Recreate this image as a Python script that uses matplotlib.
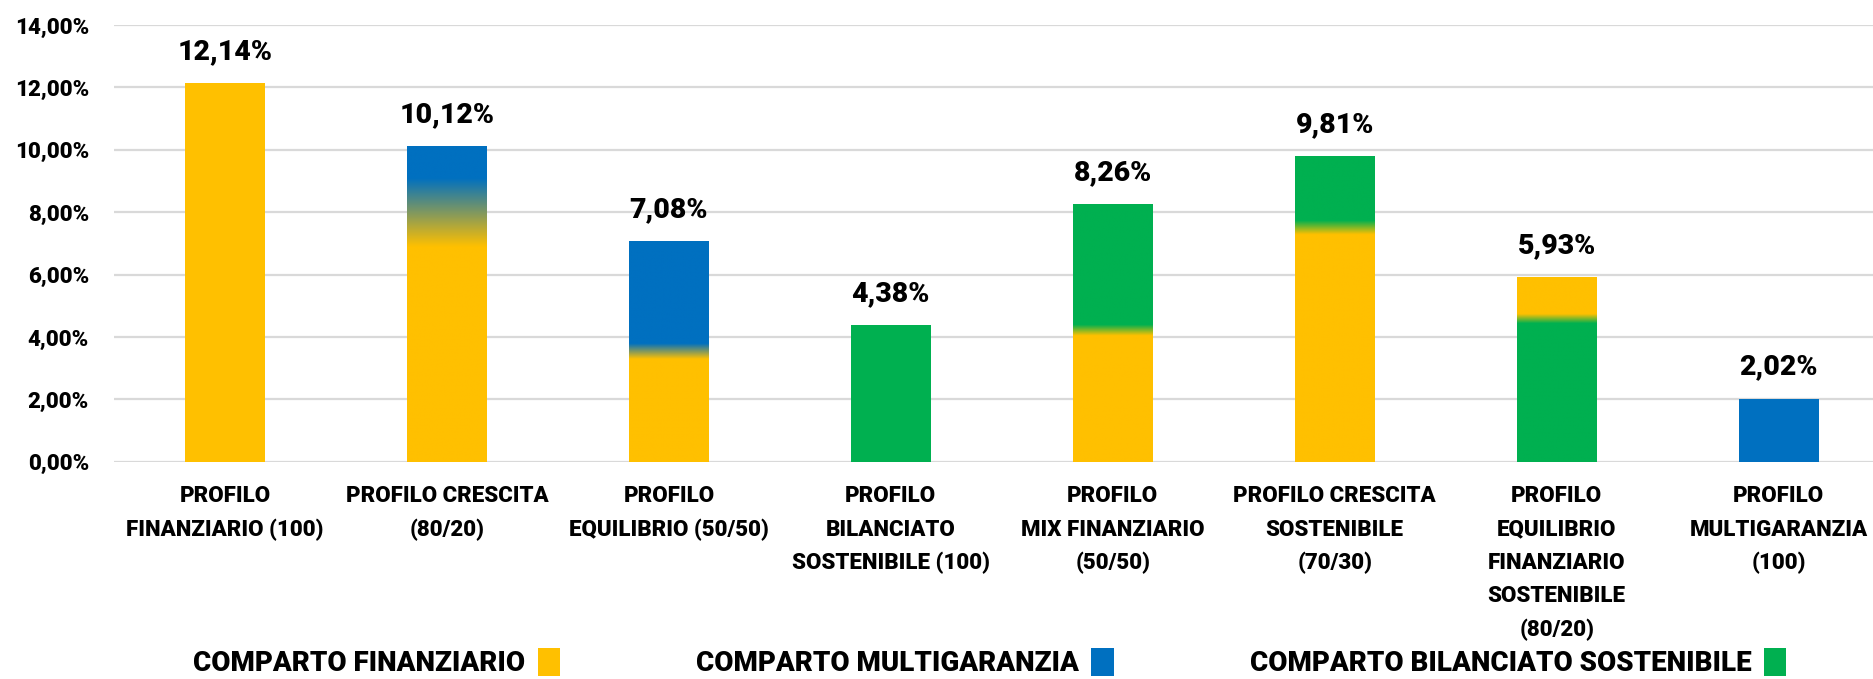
import numpy as np
import matplotlib
matplotlib.use("Agg")
import matplotlib.pyplot as plt
from matplotlib.colors import to_rgb
from matplotlib.patches import Patch

categories = [
    "PROFILO\nFINANZIARIO (100)",
    "PROFILO CRESCITA\n(80/20)",
    "PROFILO\nEQUILIBRIO (50/50)",
    "PROFILO\nBILANCIATO\nSOSTENIBILE (100)",
    "PROFILO\nMIX FINANZIARIO\n(50/50)",
    "PROFILO CRESCITA\nSOSTENIBILE\n(70/30)",
    "PROFILO\nEQUILIBRIO\nFINANZIARIO\nSOSTENIBILE\n(80/20)",
    "PROFILO\nMULTIGARANZIA\n(100)",
]
returns = [12.14, 10.12, 7.08, 4.38, 8.26, 9.81, 5.93, 2.02]
# colour of the lower and upper part of each bar
bottom_part = ["fin", "fin", "fin", "bil", "fin", "fin", "bil", "multi"]
top_part = ["fin", "multi", "multi", "bil", "bil", "bil", "fin", "multi"]
# value range (in %) where the bottom colour blends into the top one
blend_from = [None, 6.9, 3.3, None, 4.05, 7.3, 4.45, None]
blend_to = [None, 9.1, 3.8, None, 4.4, 7.75, 4.75, None]

legend_names = {"fin": "COMPARTO FINANZIARIO",
                "multi": "COMPARTO MULTIGARANZIA",
                "bil": "COMPARTO BILANCIATO SOSTENIBILE"}
colors = {"fin": "#FFC000", "multi": "#0070C0", "bil": "#00B050"}

plt.rcParams["font.family"] = ["Roboto", "DejaVu Sans"]


def pct(v, decimals=2):
    return f"{v:.{decimals}f}%".replace(".", ",")


fig = plt.figure(figsize=(18.74, 6.79), dpi=100)
ax = fig.add_axes([0.0608, 0.32, 0.9392, 0.643])

x = np.arange(len(categories))
bars = ax.bar(x, returns, width=0.36, color=[colors[c] for c in bottom_part], zorder=2)

# gradient overlay for the mixed profiles
for bar, lo, hi, b, t, v in zip(bars, blend_from, blend_to, bottom_part, top_part, returns):
    if lo is None:
        continue
    z = np.linspace(0, v, 600)
    frac = np.clip((z - lo) / (hi - lo), 0, 1)[:, None]
    rgb = (1 - frac) * np.array(to_rgb(colors[b])) + frac * np.array(to_rgb(colors[t]))
    img = np.repeat(rgb[:, None, :], 2, axis=1)
    x0 = bar.get_x()
    ax.imshow(img, extent=(x0, x0 + bar.get_width(), 0, v), origin="lower",
              aspect="auto", interpolation="bilinear", zorder=3)

ax.bar_label(bars, labels=[pct(v) for v in returns], padding=13,
             fontsize=20.5, fontweight="heavy", zorder=4)

ax.set_xlim(-0.5, 7.43)
ax.set_ylim(0, 14)
ax.set_yticks(np.arange(0, 15, 2))
ax.set_yticklabels([pct(v) for v in np.arange(0, 15, 2)], fontsize=16, fontweight="heavy")
ax.set_xticks(x)
ax.set_xticklabels(categories, fontsize=16, fontweight="heavy", linespacing=1.66)
ax.tick_params(axis="both", length=0)
ax.tick_params(axis="y", pad=18)
ax.tick_params(axis="x", pad=17)
ax.grid(axis="y", color="#D9D9D9", linewidth=1.6, zorder=0)
ax.set_axisbelow(True)
for s in ax.spines.values():
    s.set_visible(False)

handles = [Patch(facecolor=colors[k], label=legend_names[k]) for k in ["fin", "multi", "bil"]]
fig.legend(handles=handles, loc="center", bbox_to_anchor=(0.528, 0.024), ncol=3,
           frameon=False, markerfirst=False, handlelength=0.8, handleheight=1.15,
           handletextpad=0.45, columnspacing=4.9,
           prop={"weight": "heavy", "size": 20})

fig.savefig("out.png", dpi=100)
